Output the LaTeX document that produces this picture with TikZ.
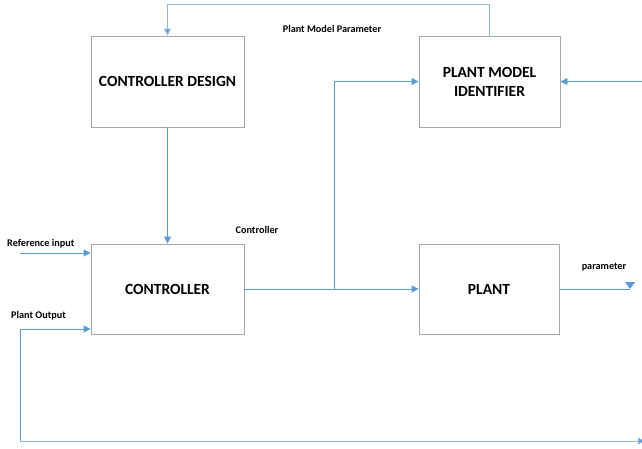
\documentclass[tikz,border=0pt]{standalone}
\usepackage{fontspec}
\setmainfont{Carlito}
\usetikzlibrary{arrows.meta,calc}
\definecolor{lineblue}{HTML}{5B9BD5}
\definecolor{lightblue}{HTML}{8FB8E0}
\definecolor{boxgray}{HTML}{A6A6A6}
\tikzset{
  block/.style={draw=boxgray, line width=0.9pt, fill=white, align=center,
    font=\bfseries\fontsize{15.5}{19}\selectfont, inner sep=0pt},
  conn/.style={draw=lineblue, line width=0.9pt, -{Triangle[length=7pt,width=7pt]}},
  lconn/.style={draw=lightblue, line width=1pt, -{Triangle[length=7pt,width=7pt,fill=lineblue]}},
  lbl/.style={font=\bfseries\fontsize{10.2}{12}\selectfont, inner sep=0pt}
}
\begin{document}
\begin{tikzpicture}[x=1pt,y=-1pt]
\useasboundingbox (0,0) rectangle (642,448);
% blocks
\node[block, minimum width=153pt, minimum height=91pt] (cd) at (167.5,81.5) {CONTROLLER DESIGN};
\node[block, minimum width=141pt, minimum height=91pt] (pmi) at (489.5,81.5) {PLANT MODEL\\IDENTIFIER};
\node[block, minimum width=153pt, minimum height=90pt] (ctrl) at (167.5,289) {CONTROLLER};
\node[block, minimum width=140pt, minimum height=90pt] (plant) at (489,289) {PLANT};
% coordinates
\coordinate (topy) at (0,4);
\coordinate (br) at (334,289);
\coordinate (rin) at (642,81.5);
\coordinate (refin) at (20,253);
\coordinate (pout) at (630,289);
\coordinate (fbl) at (20,329);
\coordinate (fbb) at (20,441);
\coordinate (fbr) at (645,441);
% connectors
\draw[lconn] (pmi.north) -- (pmi.north |- topy) -| (cd.north);
\draw[conn] (cd.south) -- (ctrl.north);
\draw[conn] (ctrl.east) -- (plant.west);
\draw[conn] (br) |- (pmi.west);
\draw[conn] (rin) -- (pmi.east);
\draw[conn] (refin) -- (refin -| ctrl.west);
\draw[draw=lineblue, line width=0.9pt] (plant.east) -- (pout);
\fill[lineblue] ($(pout)+(-5,-7)$) -- ($(pout)+(5,-7)$) -- (pout) -- cycle;
\draw[conn] (fbb) -- (fbl) -- (fbl -| ctrl.west);
\draw[lconn] (fbb) -- (fbr);
% labels
\node[lbl] (lpmp) at (332,29) {Plant Model Parameter};
\node[lbl, anchor=west] (lref) at (7,244) {Reference input};
\node[lbl, anchor=west] (lpo) at (11,316) {Plant Output};
\node[lbl] (lctrl) at (257,230) {Controller};
\node[lbl] (lpar) at (604,267) {parameter};
\end{tikzpicture}
\end{document}
